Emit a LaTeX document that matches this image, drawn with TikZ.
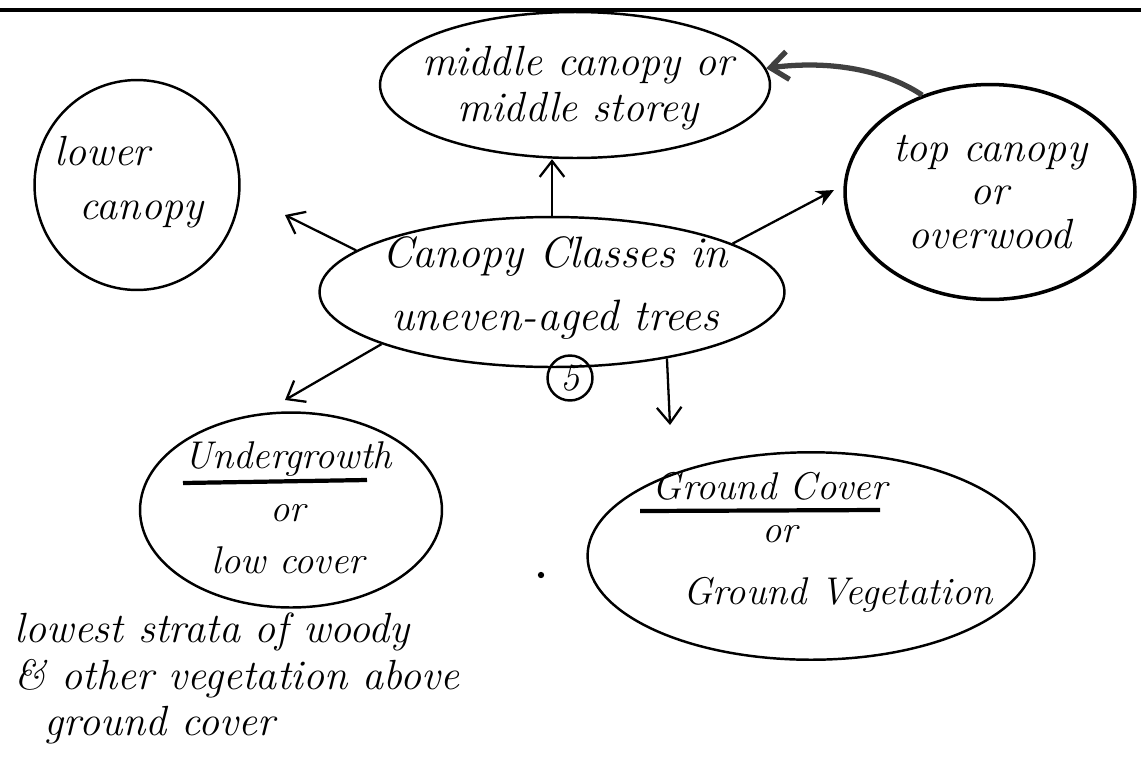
\documentclass[tikz,border=0pt]{standalone}
\usepackage{tikz}
\usetikzlibrary{shapes.geometric,arrows.meta}

\begin{document}
\begin{tikzpicture}[x=0.02cm, y=-0.02cm, line width=1.4pt,
    blob/.style={draw, ellipse, inner sep=0pt},
    hand/.style={font=\itshape\fontsize{24}{26}\selectfont, align=center, inner sep=1pt},
    arr/.style={-{Straight Barb[length=9pt,width=14pt]}, line width=1.3pt}]
    \useasboundingbox (0,0) rectangle (1141,761);
    % frame line at top
    \draw[line width=2.2pt] (0,10) -- (1141,10);
    % bubbles
    \node[blob, minimum width=9.3cm, minimum height=3.0cm] (ctr) at (552,292) {};
    \node[blob, minimum width=7.8cm, minimum height=2.92cm] (mid) at (575,85) {};
    \node[blob, minimum width=4.1cm, minimum height=4.2cm] (low) at (137,185) {};
    \node[blob, minimum width=5.8cm, minimum height=4.3cm, line width=2pt] (top) at (990,192) {};
    \node[blob, minimum width=6.04cm, minimum height=3.9cm] (under) at (291,510) {};
    \node[blob, minimum width=8.94cm, minimum height=4.15cm] (grnd) at (811,556) {};
    % texts
    \node[hand, font=\itshape\fontsize{25}{36}\selectfont] (ctrtxt) at (555,288) {Canopy Classes in\\uneven-aged trees};
    \node[draw, circle, minimum size=0.9cm, inner sep=0pt, font=\itshape\fontsize{22}{22}\selectfont] (five) at (570,378) {5};
    \node[hand] (midtxt) at (578,88) {middle canopy or\\middle storey};
    \node[hand, align=left, anchor=west, font=\itshape\fontsize{24}{31}\selectfont] (lowtxt) at (52,182) {lower\\\hspace{0.5cm}canopy};
    \node[hand, font=\itshape\fontsize{24}{24.5}\selectfont] (toptxt) at (990,192) {top canopy\\or\\overwood};
    \node[hand, font=\itshape\fontsize{22}{30}\selectfont] (undtxt) at (288,508) {Undergrowth\\or\\low cover};
    \node[hand, font=\itshape\fontsize{22}{24}\selectfont] (grnd1) at (770,486) {Ground Cover};
    \node[hand, font=\itshape\fontsize{22}{24}\selectfont] (grnd2) at (780,534) {or};
    \node[hand, font=\itshape\fontsize{22}{24}\selectfont] (grnd3) at (838,595) {Ground Vegetation};
    \node[hand, align=left, anchor=north west, font=\itshape\fontsize{24}{26.5}\selectfont] (note) at (12,610)
        {lowest strata of woody\\\& other vegetation above\\\hspace{0.6cm}ground cover};
    % underlines
    \draw[line width=2.4pt] (183,483) -- (367,480);
    \draw[line width=2.4pt] (640,511) -- (880,510);
    % stray dot
    \fill (541,575) circle (1.8pt);
    % arrow tips
    \coordinate (lowtip) at (285,215);
    \coordinate (toptip) at (834,190);
    \coordinate (undtip) at (285,400);
    \coordinate (grndtip) at (670,425);
    % arrows
    \draw[arr] (ctr.north) -- (ctr.north |- mid.south);
    \draw[arr] (ctr.168) -- (lowtip);
    \draw[-{Stealth[length=10pt,width=9pt]}, line width=1.3pt] (ctr.15) -- (toptip);
    \draw[arr] (ctr.197) -- (undtip);
    \draw[arr] (ctr.-30) -- (grndtip);
    \draw[-{Straight Barb[length=10pt,width=16pt]}, line width=3pt, black!75] (top.125) .. controls (885,70) and (830,60) .. (mid.5);
\end{tikzpicture}
\end{document}
